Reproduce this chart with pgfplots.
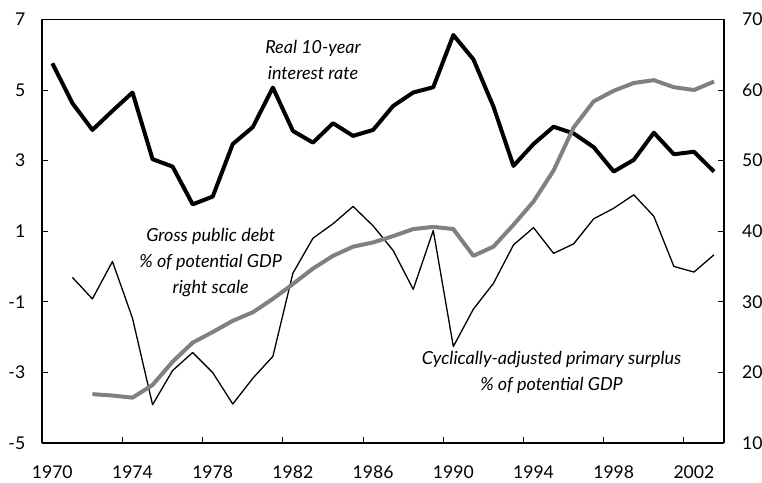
\documentclass[border=0pt]{standalone}
\usepackage{pgfplots}
\pgfplotsset{compat=1.18}
\usepackage{pgfplotstable}
\usepackage{fontspec}
\setmainfont{Lato}
\definecolor{debtgray}{RGB}{128,128,128}

\pgfplotstableread{
x y
1970.5 5.76
1971.5 4.63
1972.5 3.87
1973.5 4.41
1974.5 4.93
1975.5 3.04
1976.5 2.83
1977.5 1.76
1978.5 1.98
1979.5 3.47
1980.5 3.95
1981.5 5.07
1982.5 3.84
1983.5 3.51
1984.5 4.06
1985.5 3.70
1986.5 3.87
1987.5 4.55
1988.5 4.93
1989.5 5.08
1990.5 6.56
1991.5 5.87
1992.5 4.53
1993.5 2.85
1994.5 3.47
1995.5 3.96
1996.5 3.77
1997.5 3.38
1998.5 2.69
1999.5 3.02
2000.5 3.79
2001.5 3.18
2002.5 3.25
2003.5 2.69
}\rate

\pgfplotstableread{
x y
1971.5 -0.31
1972.5 -0.92
1973.5 0.14
1974.5 -1.47
1975.5 -3.92
1976.5 -2.95
1977.5 -2.44
1978.5 -3.01
1979.5 -3.90
1980.5 -3.17
1981.5 -2.55
1982.5 -0.19
1983.5 0.80
1984.5 1.21
1985.5 1.70
1986.5 1.15
1987.5 0.45
1988.5 -0.65
1989.5 1.02
1990.5 -2.27
1991.5 -1.21
1992.5 -0.48
1993.5 0.61
1994.5 1.10
1995.5 0.37
1996.5 0.64
1997.5 1.35
1998.5 1.65
1999.5 2.03
2000.5 1.42
2001.5 0.00
2002.5 -0.16
2003.5 0.33
}\surplus

\pgfplotstableread{
x y
1972.5 16.9
1973.5 16.7
1974.5 16.4
1975.5 18.2
1976.5 21.5
1977.5 24.2
1978.5 25.7
1979.5 27.3
1980.5 28.5
1981.5 30.4
1982.5 32.5
1983.5 34.7
1984.5 36.5
1985.5 37.8
1986.5 38.4
1987.5 39.3
1988.5 40.3
1989.5 40.6
1990.5 40.3
1991.5 36.5
1992.5 37.8
1993.5 40.9
1994.5 44.2
1995.5 48.6
1996.5 54.7
1997.5 58.4
1998.5 59.9
1999.5 61.0
2000.5 61.4
2001.5 60.4
2002.5 60.0
2003.5 61.2
}\debt

\begin{document}
\begin{tikzpicture}
\pgfplotsset{
  common/.style={
    scale only axis, width=341pt, height=211.75pt,
    xmin=1970, xmax=2004,
    tick align=inside,
    major tick length=3pt,
    every tick/.style={black, line width=0.5pt},
    axis line style={line width=1pt},
    tick label style={font=\fontsize{8.8}{10}\selectfont},
    /pgf/number format/assume math mode=true,
    /pgf/number format/1000 sep={},
  }
}
\begin{axis}[common,
  axis x line*=bottom, axis y line*=left,
  ymin=-5, ymax=7, ytick={-5,-3,...,7},
  xtick={1970,1974,...,2002},
  xticklabel style={xshift=5pt, yshift=-8pt},
  yticklabel style={xshift=-5pt},
  clip=false]
\coordinate (SW) at (rel axis cs:0,0);
\coordinate (NE) at (rel axis cs:1,1);
\draw[line width=0.5pt] (rel axis cs:0,1) -- (rel axis cs:1,1);
\addplot[black, line width=2pt, line join=round] table[x=x,y=y] {\rate};
\addplot[black, line width=0.65pt, line join=round] table[x=x,y=y] {\surplus};
\node[font=\fontsize{9}{13}\selectfont\itshape, align=center] at (axis cs:1983.5,5.85) {Real 10-year\\interest rate};
\node[font=\fontsize{9}{13}\selectfont\itshape, align=center] at (axis cs:1978.4,0.10) {Gross public debt\\\% of potential GDP\\right scale};
\node[font=\fontsize{9}{13}\selectfont\itshape, align=center] at (axis cs:1995.4,-3.0) {Cyclically-adjusted primary surplus\\\% of potential GDP};
\end{axis}
\begin{axis}[common,
  axis x line=none, axis y line*=right,
  ymin=10, ymax=70, ytick={10,20,...,70},
  yticklabel style={xshift=5.5pt}]
\addplot[debtgray, line width=2pt, line join=round] table[x=x,y=y] {\debt};
\end{axis}
\pgfresetboundingbox
\path ([xshift=-21.15pt,yshift=-20pt]SW) rectangle ([xshift=19pt,yshift=9.75pt]NE);
\end{tikzpicture}
\end{document}
